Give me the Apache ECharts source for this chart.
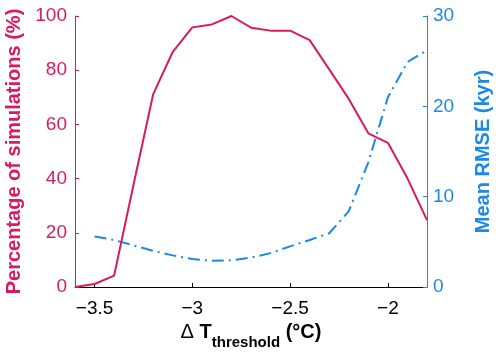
<!DOCTYPE html>
<html>
<head>
<meta charset="utf-8">
<script src="https://cdn.jsdelivr.net/npm/echarts@6/dist/echarts.min.js"></script>
<style>
  html, body { margin: 0; padding: 0; background: #fff; }
  #chart { width: 500px; height: 354px; }
</style>
</head>
<body>
<div id="chart"></div>
<script>
// ΔT threshold (°C), one point every 0.1
const thresholds = [-3.6, -3.5, -3.4, -3.3, -3.2, -3.1, -3.0, -2.9, -2.8, -2.7,
  -2.6, -2.5, -2.4, -2.3, -2.2, -2.1, -2.0, -1.9, -1.8]
// percentage of simulations (%)
const pctSims = [0, 1.1, 4.2, 38, 71.2, 86.8, 95.8, 96.9, 100, 95.7,
  94.6, 94.6, 91.1, 80.3, 69.4, 56.7, 53.2, 40.1, 24.7]
// mean RMSE (kyr), no value at the first threshold
const meanRmse = [null, 5.6, 5.2, 4.6, 4.0, 3.5, 3.1, 2.9, 2.95, 3.25,
  3.75, 4.5, 5.2, 5.95, 8.4, 13.8, 21.0, 24.9, 26.2]
const xTicks = [-3.5, -3, -2.5, -2]

const pink = '#D81B60'
const blue = '#1E88E5'
const font = 'Liberation Sans'

const minus = v => String(v).replace('-', '\u2212')

const chart = echarts.init(document.getElementById('chart'))
const option = {
  animation: false,
  grid: {
    left: 75,
    right: 73,
    top: 16,
    bottom: 67,
    containLabel: false,
    outerBoundsMode: 'none'
  },
  xAxis: {
    type: 'value',
    min: -3.6,
    max: -1.8,
    splitLine: { show: false },
    axisLine: { lineStyle: { color: '#000', width: 1 } },
    axisTick: { inside: true, length: 4, customValues: xTicks, lineStyle: { color: '#000' } },
    axisLabel: {
      customValues: xTicks,
      formatter: minus,
      color: '#000',
      fontFamily: font,
      fontSize: 19,
      margin: 12
    },
    // subscript: the small token is pushed down with top padding
    name: '{d|\u0394}{a| T}{b|threshold}{a| (\u00b0C)}',
    nameLocation: 'middle',
    nameGap: 26,
    nameTextStyle: {
      rich: {
        d: { fontFamily: font, fontSize: 20, color: '#000' },
        a: { fontFamily: font, fontWeight: 'bold', fontSize: 20, color: '#000' },
        b: { fontFamily: font, fontWeight: 'bold', fontSize: 15, color: '#000', padding: [20, 0, 0, 0] }
      }
    }
  },
  yAxis: [
    {
      type: 'value',
      min: 0,
      max: 100,
      interval: 20,
      splitLine: { show: false },
      axisLine: { show: true, lineStyle: { color: pink } },
      axisTick: { inside: true, length: 4, lineStyle: { color: pink } },
      axisLabel: { color: pink, fontFamily: font, fontSize: 19, margin: 8 },
      name: 'Percentage of simulations (%)',
      nameLocation: 'middle',
      nameGap: 48,
      nameTextStyle: { color: pink, fontFamily: font, fontWeight: 'bold', fontSize: 20 }
    },
    {
      type: 'value',
      min: 0,
      max: 30,
      interval: 10,
      position: 'right',
      splitLine: { show: false },
      axisLine: { show: true, lineStyle: { color: blue } },
      axisTick: { inside: true, length: 4, lineStyle: { color: blue } },
      axisLabel: { color: blue, fontFamily: font, fontSize: 19, margin: 6 },
      name: 'Mean RMSE (kyr)',
      nameLocation: 'middle',
      nameGap: 46,
      nameTextStyle: { color: blue, fontFamily: font, fontWeight: 'bold', fontSize: 20 }
    }
  ],
  series: [
    {
      name: 'pct',
      type: 'line',
      yAxisIndex: 0,
      data: thresholds.map((x, i) => [x, pctSims[i]]),
      showSymbol: false,
      lineStyle: { color: pink, width: 2 },
      z: 3
    },
    {
      name: 'rmse',
      type: 'line',
      yAxisIndex: 1,
      data: thresholds.map((x, i) => [x, meanRmse[i]]),
      showSymbol: false,
      connectNulls: false,
      lineStyle: { color: blue, width: 2, type: [12, 5, 2, 5] },
      z: 2
    }
  ]
}
chart.setOption(option)
</script>
</body>
</html>
